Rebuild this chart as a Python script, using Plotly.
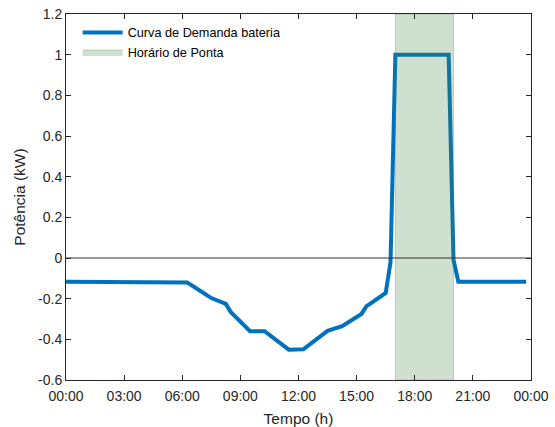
import plotly.graph_objects as go

# Data (hours of day, power in kW)
hours = [0, 5.5, 6.25, 7.0, 7.5, 8.25, 8.5, 9.5, 10.25, 11.5, 12.25, 13.5, 14.25,
         15.25, 15.5, 16.5, 16.75, 17.0, 19.75, 20.0, 20.25, 23.75]
power = [-0.117, -0.117, -0.12, -0.166, -0.197, -0.226, -0.265, -0.36, -0.36, -0.451, -0.449,
         -0.358, -0.335, -0.275, -0.238, -0.172, -0.02, 1.0, 1.0, -0.01, -0.117, -0.117]

peak_start = 17
peak_end = 20

x_tickvals = [0, 3, 6, 9, 12, 15, 18, 21, 24]
x_ticktext = ["00:00", "03:00", "06:00", "09:00", "12:00", "15:00", "18:00", "21:00", "00:00"]
y_tickvals = [-0.6, -0.4, -0.2, 0, 0.2, 0.4, 0.6, 0.8, 1.0, 1.2]
y_ticktext = ["-0.6", "-0.4", "-0.2", "0", "0.2", "0.4", "0.6", "0.8", "1", "1.2"]

FONT = "Liberation Sans, Arial, Helvetica, sans-serif"
AX = "#262626"

fig = go.Figure()
fig.add_trace(go.Scatter(
    x=hours, y=power, mode="lines", name="Curva de Demanda bateria",
    line=dict(color="#0072BD", width=4),
))
fig.add_trace(go.Scatter(
    x=[peak_start, peak_end, peak_end, peak_start, peak_start],
    y=[-0.6, -0.6, 1.2, 1.2, -0.6],
    fill="toself", mode="lines", name="Horário de Ponta",
    fillcolor="rgba(67,131,67,0.25)",
    line=dict(color="rgba(67,131,67,0.3)", width=1),
))

fig.add_shape(type="line", xref="paper", yref="y", x0=0, x1=1, y0=0, y1=0,
              line=dict(color="#333333", width=1), layer="above")

fig.update_layout(
    width=555, height=427,
    margin=dict(l=66, r=24, t=14, b=47, autoexpand=False),
    paper_bgcolor="white", plot_bgcolor="white",
    font=dict(family=FONT, color=AX, size=14),
    showlegend=True,
    legend=dict(x=0.025, y=0.99, xanchor="left", yanchor="top",
                bgcolor="rgba(255,255,255,0)", borderwidth=0,
                font=dict(size=12.7, color="#000000"),
                tracegroupgap=0, itemwidth=40),
)
fig.update_xaxes(
    range=[0, 24], tickvals=x_tickvals, ticktext=x_ticktext,
    showgrid=False, zeroline=False, showline=True, linecolor=AX, linewidth=1,
    mirror="ticks", ticks="inside", ticklen=5, tickcolor=AX, automargin=False,
    ticklabelstandoff=3,
    title=dict(text="Tempo (h)", font=dict(size=15.5, color=AX), standoff=10),
    tickfont=dict(size=14, color=AX),
)
fig.update_yaxes(
    range=[-0.6, 1.2], tickvals=y_tickvals, ticktext=y_ticktext,
    showgrid=False, zeroline=False, showline=True, linecolor=AX, linewidth=1,
    mirror="ticks", ticks="inside", ticklen=5, tickcolor=AX, automargin=False,
    title=dict(text="Potência (kW)", font=dict(size=15.5, color=AX), standoff=8),
    tickfont=dict(size=14, color=AX),
)

fig.write_html("out.html", config={"displayModeBar": False},
               post_script="document.body.style.margin='0';")
